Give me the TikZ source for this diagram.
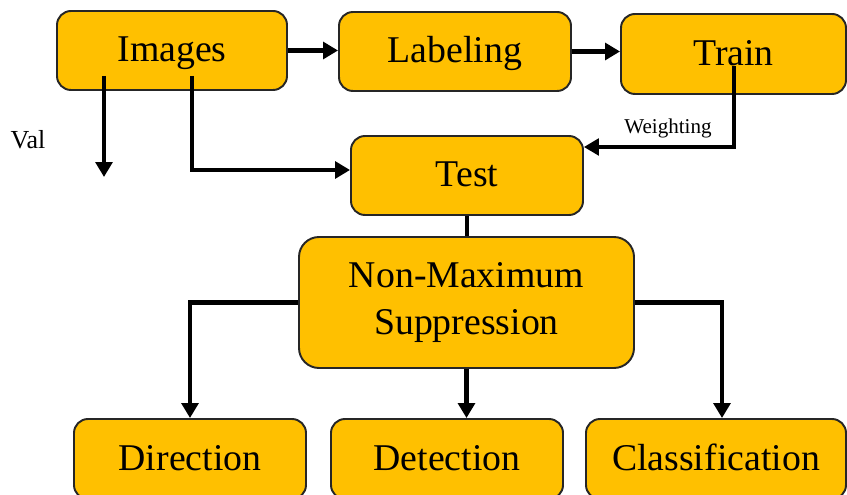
\documentclass[tikz,border=0pt]{standalone}
\usepackage{fontspec}
\setmainfont{Liberation Serif}
\usepackage{tikz}
\usetikzlibrary{arrows.meta}
\usetikzlibrary{positioning}

\definecolor{boxgold}{HTML}{FFC000}
\definecolor{boxline}{HTML}{262626}

\begin{document}
\begin{tikzpicture}[box/.style={draw=boxline,line width=1.1pt,fill=boxgold,rounded corners=0.28cm,
    minimum width=4.64cm,minimum height=1.58cm,font=\fontsize{21.5}{26.5}\selectfont,align=center},
  one/.style={box,text height=13pt,text depth=0pt},
  arr/.style={line width=2.3pt,-{Triangle[length=8.5pt,width=9.5pt]}},
  lbl/.style={inner sep=2pt}]
  \useasboundingbox (0,0) rectangle (16.94,9.9);
  \clip (0,0) rectangle (16.94,9.9);

  % top row
  \node[one,minimum width=4.6cm] (img) at (3.44,8.89) {Images};
  \node[one] (lab) at (9.10,8.87) {Labeling};
  \node[one,minimum width=4.5cm,minimum height=1.6cm] (trn) at (14.67,8.82) {Train};

  \node[one] (tst) at (9.34,6.39) {Test};
  \node[box,minimum width=6.7cm,minimum height=2.62cm,rounded corners=0.4cm] (nms) at (9.33,3.85) {Non-Maximum\\Suppression};

  % bottom row
  \node[one,minimum height=1.6cm] (dir) at (3.80,0.72) {Direction};
  \node[one,minimum height=1.6cm] (det) at (8.94,0.72) {Detection};
  \node[one,minimum width=5.2cm,minimum height=1.6cm] (cls) at (14.32,0.72) {Classification};

  \node[lbl,font=\fontsize{14.8}{17}\selectfont] (val) at (0.56,7.10) {Val};

  \coordinate (valtop) at (2.08,8.38);
  \coordinate (valend) at (2.08,6.36);
  \coordinate (imgdn) at (3.84,8.38);
  \coordinate (trndn) at (14.68,8.58);

  \draw[arr](img.east)--(img.east -| lab.west);
  \draw[arr](lab.east)--(lab.east -| trn.west);
  \draw[arr](valtop)--(valend);
  \draw[arr](imgdn)|-([yshift=0.11cm]tst.west);
  \draw[arr,line width=1.9pt](trndn)|-([yshift=0.57cm]tst.east)
    node[pos=0.72,above=2pt,lbl,font=\fontsize{12}{14}\selectfont]{Weighting};
  \draw[line width=2.3pt](tst.south)--(tst.south |- nms.north);
  \draw[arr](nms.west)-|(dir.north);
  \draw[arr](nms.south)--(nms.south |- det.north);
  \draw[arr](nms.east)-|([xshift=0.12cm]cls.north);
\end{tikzpicture}
\end{document}
